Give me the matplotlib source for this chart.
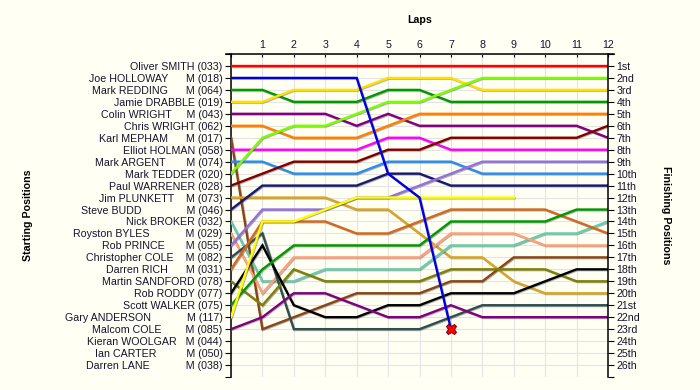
import matplotlib.pyplot as plt
import matplotlib.patheffects as pe

plt.rcParams['font.family'] = ['Liberation Sans', 'DejaVu Sans']

# drivers in starting order
names = ['Oliver SMITH', 'Joe HOLLOWAY', 'Mark REDDING', 'Jamie DRABBLE', 'Colin WRIGHT',
         'Chris WRIGHT', 'Karl MEPHAM', 'Elliot HOLMAN', 'Mark ARGENT', 'Mark TEDDER',
         'Paul WARRENER', 'Jim PLUNKETT', 'Steve BUDD', 'Nick BROKER', 'Royston BYLES',
         'Rob PRINCE', 'Christopher COLE', 'Darren RICH', 'Martin SANDFORD', 'Rob RODDY',
         'Scott WALKER', 'Gary ANDERSON', 'Malcom COLE', 'Kieran WOOLGAR', 'Ian CARTER',
         'Darren LANE']
car_numbers = ['033', '018', '064', '019', '043', '062', '017', '058', '074', '020',
               '028', '073', '046', '032', '029', '055', '082', '031', '078', '077',
               '075', '117', '085', '044', '050', '038']
classes = ['', 'M', 'M', '', 'M', '', 'M', '', 'M', '', '', 'M', 'M', '', 'M', 'M', 'M',
           'M', '', '', '', 'M', 'M', 'M', 'M', 'M']
# spaces between name and class column, as laid out in the original
label_pads = [1, 6, 6, 1, 5, 1, 6, 1, 7, 1, 1, 4, 15, 1, 12, 7, 4, 6, 1, 1, 1, 12, 8, 3, 10, 12]

finish_labels = ['1st', '2nd', '3rd', '4th', '5th', '6th', '7th', '8th', '9th', '10th',
                 '11th', '12th', '13th', '14th', '15th', '16th', '17th', '18th', '19th',
                 '20th', '21st', '22nd', '23rd', '24th', '25th', '26th']

# position at the end of each lap (lap 0 = grid)
positions = [
    [1, 1, 1, 1, 1, 1, 1, 1, 1, 1, 1, 1, 1],
    [2, 2, 2, 2, 2, 10, 12, 23],
    [3, 3, 4, 4, 4, 3, 3, 4, 4, 4, 4, 4, 4],
    [4, 4, 3, 3, 3, 2, 2, 2, 3, 3, 3, 3, 3],
    [5, 5, 5, 5, 6, 5, 6, 6, 6, 6, 6, 6, 7],
    [6, 6, 7, 7, 7, 6, 5, 5, 5, 5, 5, 5, 5],
    [7, 23, 22, 21, 20, 20, 20, 19, 19, 17, 17, 17, 17],
    [8, 8, 8, 8, 8, 7, 7, 8, 8, 8, 8, 8, 8],
    [9, 9, 10, 10, 10, 9, 9, 9, 10, 10, 10, 10, 10],
    [10, 7, 6, 6, 5, 4, 4, 3, 2, 2, 2, 2, 2],
    [11, 10, 9, 9, 9, 8, 8, 7, 7, 7, 7, 7, 6],
    [12, 12, 12, 12, 13, 13, 15, 17, 17, 19, 20, 20, 20],
    [13, 11, 11, 11, 11, 10, 10, 11, 11, 11, 11, 11, 11],
    [14, 19, 19, 18, 18, 18, 18, 16, 16, 16, 15, 15, 14],
    [15, 20, 17, 17, 17, 17, 17, 15, 15, 15, 16, 16, 16],
    [16, 13, 13, 13, 12, 12, 11, 10, 9, 9, 9, 9, 9],
    [17, 15, 23, 23, 23, 23, 23, 22, 21, 21, 21, 21, 21],
    [18, 14, 14, 14, 15, 15, 14, 13, 13, 13, 13, 14, 15],
    [19, 21, 18, 19, 19, 19, 19, 18, 18, 18, 18, 19, 19],
    [20, 16, 21, 22, 22, 21, 21, 20, 20, 20, 19, 18, 18],
    [21, 18, 16, 16, 16, 16, 16, 14, 14, 14, 14, 13, 13],
    [22, 14, 14, 13, 12, 12, 12, 12, 12, 12],
    [23, 22, 20, 20, 21, 22, 22, 21, 22, 22, 22, 22, 22],
]
retired_crash = ['Joe HOLLOWAY']

colors = ['#ff0000', '#0000dd', '#009900', '#ffe000', '#800080', '#ff8000', '#8b4513',
          '#ff00ff', '#2b8cf0', '#7cfc00', '#800000', '#daa520', '#191970', '#66cdaa',
          '#ffa07a', '#9370db', '#2f4f4f', '#d2691e', '#808000', '#000000', '#009900',
          '#ffff00', '#800080']

bg = '#fffff4'
txt = '#141430'
fs = 7.7

fig = plt.figure(figsize=(7, 3.9), dpi=100, facecolor=bg)
ax = fig.add_axes([231 / 700, 13 / 390, 377 / 700, 323 / 390])
ax.set_facecolor(bg)

shadow = [pe.SimpleLineShadow(offset=(0.6, -0.6), shadow_color='#555555', alpha=0.45), pe.Normal()]
for name, pos, col in zip(names, positions, colors):
    z = 5 if name in retired_crash else 3
    ax.plot(range(len(pos)), pos, color=col, lw=1.7, zorder=z,
            solid_joinstyle='miter', path_effects=shadow)
    if name in retired_crash:
        ax.plot(len(pos) - 1, pos[-1], marker='X', ms=7.5, color='#ff0000',
                mec='#700000', mew=0.7, zorder=6)

ax.set_xlim(0, 12)
ax.set_ylim(27, 0)

# top lap axis
ax.xaxis.tick_top()
ax.xaxis.set_label_position('top')
ax.set_xticks(range(13))
ax.set_xticklabels([''] + [str(i) for i in range(1, 13)], fontsize=fs, color=txt)
ax.tick_params(axis='x', direction='in', length=2.5, width=0.8, pad=3)
ax.set_xlabel('Laps', fontsize=fs, fontweight='bold', labelpad=12)

# left: starting positions
left_labels = []
for n, c, num, p in zip(names, classes, car_numbers, label_pads):
    if c:
        left_labels.append(n + ' ' * p + c + ' (' + num + ')')
    else:
        left_labels.append(n + ' (' + num + ')')
ax.set_yticks(range(28))
ax.set_yticklabels([''] + left_labels + [''], fontsize=fs, color=txt)
ax.tick_params(axis='y', direction='out', length=4, width=0.8, pad=2)

ax.grid(True, color='#e4e4e4', lw=0.8, zorder=0)
ax.set_axisbelow(True)

ax.spines['bottom'].set_visible(False)
ax.spines['right'].set_visible(False)
ax.spines['top'].set_bounds(-0.17, 12.2)
for s in ['top', 'left']:
    ax.spines[s].set_linewidth(1.1)

# right: finishing positions
ax2 = ax.twinx()
ax2.set_ylim(27, 0)
ax2.set_yticks(range(28))
ax2.set_yticklabels([''] + finish_labels + [''], fontsize=fs, color=txt)
ax2.tick_params(axis='y', direction='out', length=4, width=0.8, pad=2)
for s in ['top', 'bottom', 'left']:
    ax2.spines[s].set_visible(False)
ax2.spines['right'].set_linewidth(1.1)

fig.text(28 / 700, 1 - 215 / 390, 'Starting Positions', rotation=90, ha='center',
         va='center', fontsize=fs, fontweight='bold')
fig.text(666 / 700, 1 - 215 / 390, 'Finishing Positions', rotation=270, ha='center',
         va='center', fontsize=fs, fontweight='bold')

fig.savefig('out.png', dpi=100, facecolor=bg)
